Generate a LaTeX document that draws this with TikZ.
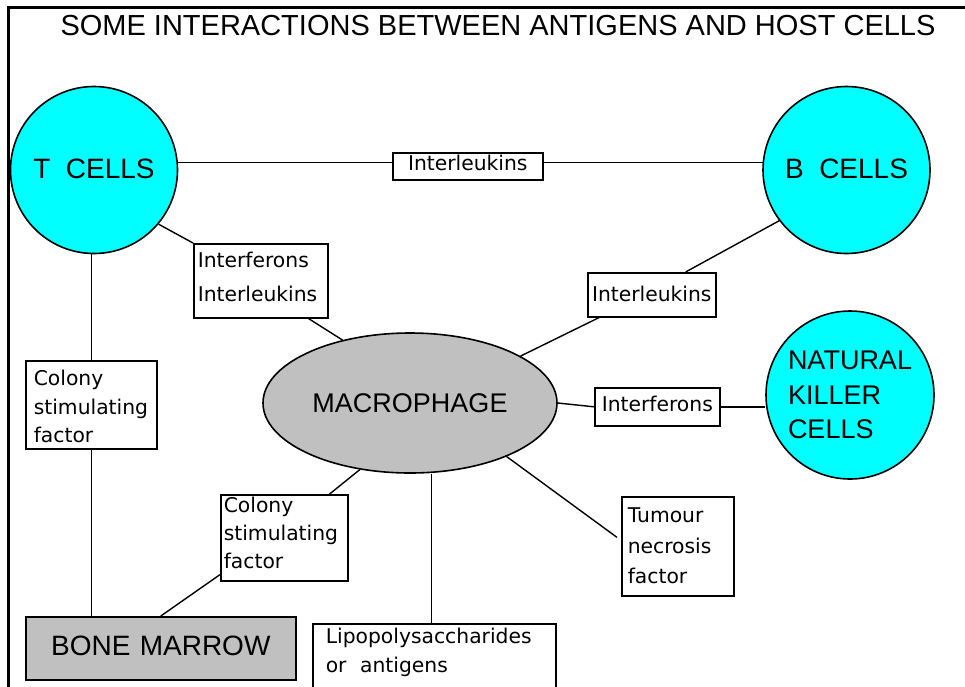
\documentclass[tikz,border=0pt]{standalone}
\usepackage{fontspec}
\setmainfont{Liberation Sans}
\newfontfamily\lblfont{DejaVu Sans}
\usetikzlibrary{calc,shapes.geometric}
\definecolor{cellcyan}{RGB}{0,255,255}
\definecolor{macgray}{RGB}{192,192,192}
\tikzset{
  big/.style={font=\fontsize{28}{34}\selectfont},
  cell/.style={circle, draw, line width=1.6pt, fill=cellcyan, minimum size=167pt, inner sep=0pt, big},
  lbox/.style={draw, fill=white, line width=1.6pt, anchor=north west, inner ysep=0pt,
               align=left, font=\lblfont\fontsize{20.3}{29}\selectfont},
  link/.style={line width=1.4pt},
  frame/.style={line width=3pt}
}
\begin{document}
\begin{tikzpicture}[x=1pt,y=-1pt]
  \useasboundingbox (0,0) rectangle (965,686);
  % outer frame (top and left edges)
  \draw[frame] (8.5,690) -- (8.5,7) -- (970,7);
  \node[anchor=base, font=\fontsize{29}{34}\selectfont] (title) at (498,35)
    {SOME INTERACTIONS BETWEEN ANTIGENS AND HOST CELLS};

  % cells
  \node[cell, text depth=3pt] (tcells) at (94,170) {T\ \ CELLS};
  \node[cell, text depth=3pt] (bcells) at (846.5,170) {B\ \ CELLS};
  \node[cell, minimum size=168pt, align=left, font=\fontsize{27}{34.5}\selectfont] (nk) at (850,395)
    {NATURAL\\KILLER\\CELLS};
  \node[ellipse, draw, line width=1.6pt, fill=macgray, minimum width=294pt, minimum height=140pt,
        inner sep=0pt, font=\fontsize{27}{32}\selectfont] (macro) at (410,403) {MACROPHAGE};
  \node[draw, line width=1.6pt, fill=macgray, anchor=north west, inner sep=0pt, align=center,
        text width=270pt, text height=39pt, text depth=24pt, big] (bm) at (25,616) {BONE MARROW};

  % messenger labels
  \node[lbox, align=center, inner xsep=0pt, text width=150pt, text height=18pt, text depth=9pt]
    (il1) at (392,152) {Interleukins};
  \node[lbox, inner xsep=4pt, text width=126pt, text height=24pt, text depth=50pt,
        font=\lblfont\fontsize{20.3}{34}\selectfont] (ifil) at (193,243) {Interferons\\Interleukins};
  \node[lbox, align=center, inner xsep=0pt, text width=128pt, text height=29pt, text depth=15pt]
    (il2) at (587,272) {Interleukins};
  \node[lbox, align=center, inner xsep=0pt, text width=125pt, text height=24pt, text depth=14pt]
    (ifn) at (594,387) {Interferons};
  \node[lbox, inner xsep=6pt, text width=100pt, text height=26pt, text depth=73pt,
        font=\lblfont\fontsize{20.3}{30.5}\selectfont] (tnf) at (621,496) {Tumour\\necrosis\\factor};
  \node[lbox, inner xsep=8pt, text width=115pt, text height=25pt, text depth=63pt,
        font=\lblfont\fontsize{20.3}{28.5}\selectfont] (csf1) at (25,360) {Colony\\stimulating\\factor};
  \node[lbox, inner xsep=3pt, text width=121pt, text height=18pt, text depth=68pt,
        font=\lblfont\fontsize{20.3}{28}\selectfont] (csf2) at (220,494) {Colony\\stimulating\\factor};
  \node[lbox, inner xsep=13pt, text width=217pt, text height=20pt, text depth=57pt]
    (lps) at (312,623) {Lipopolysaccharides\\or\ \ antigens};

  % connectors
  \draw[link] (tcells.5) -- (tcells.5 -| il1.west);
  \draw[link] (il1.east |- bcells.175) -- (bcells.175);
  \draw[link] (tcells.-40) -- (ifil.north west);
  \draw[link] ($(ifil.south east)+(-20,0)$) -- (macro.137);
  \draw[link] (bcells.217) -- ($(il2.north east)+(-31,0)$);
  \draw[link] ($(il2.south west)+(12,0)$) -- (macro.23);
  \draw[link] (macro.east) -- (ifn.west);
  \draw[link] (ifn.east) -- (nk.west |- ifn.east);
  \draw[link, shorten >=5pt] (macro.-29) -- ($(tnf.west)+(0,-6)$);
  \draw[link] (macro.233) -- ($(csf2.north east)+(-19,0)$);
  \draw[link] ($(csf2.south west)+(0,-7)$) -- (bm.north);
  \draw[link] (csf1.north |- tcells.south) -- (csf1.north);
  \draw[link] (csf1.south) -- (csf1.south |- bm.north);
  \draw[link] ($(lps.north)+(-3,0)$) -- ($(lps.north |- macro.south)+(-3,0)$);
\end{tikzpicture}
\end{document}
